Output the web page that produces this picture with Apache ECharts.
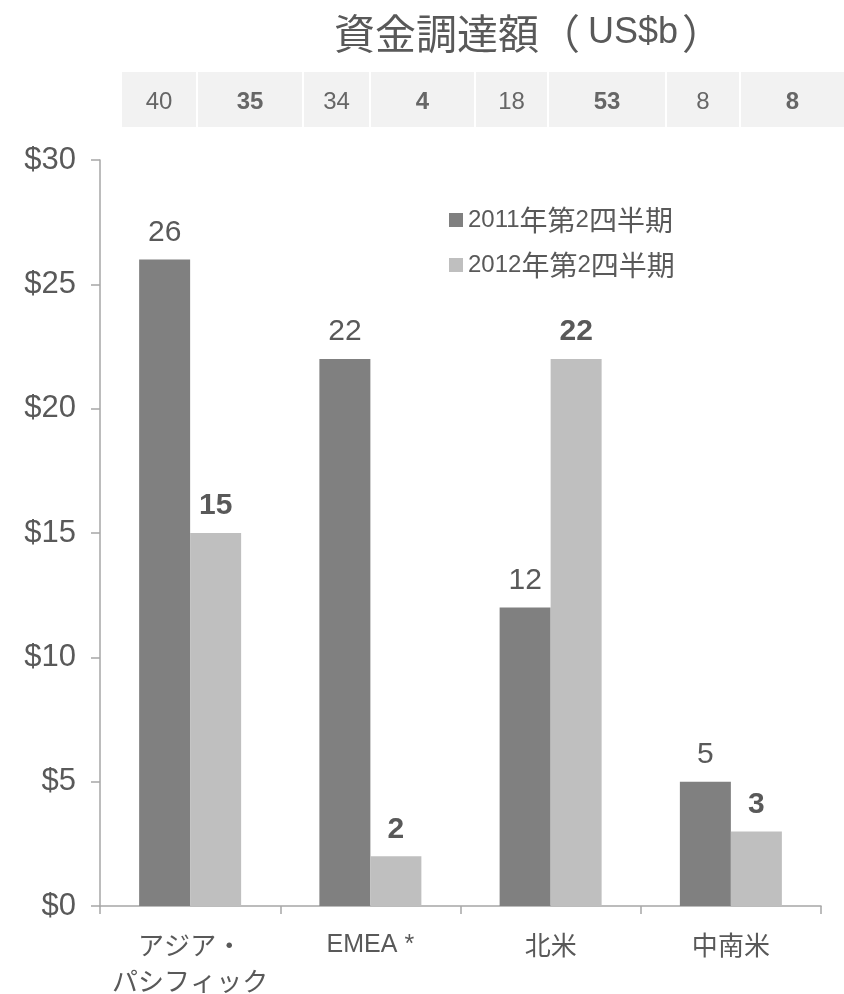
<!DOCTYPE html>
<html>
<head>
<meta charset="utf-8">
<script src="https://cdn.jsdelivr.net/npm/echarts@6/dist/echarts.min.js"></script>
<style>
html,body{margin:0;padding:0;background:#fff;}
#chart{width:844px;height:994px;}
</style>
</head>
<body>
<div id="chart"></div>
<script>
var categories = ['アジア・\nパシフィック', 'EMEA *', '北米', '中南米'];
var seriesNames = ['2011年第2四半期', '2012年第2四半期'];
var values2011 = [26, 22, 12, 5];
var values2012 = [15, 2, 22, 3];
var dealCounts = [40, 35, 34, 4, 18, 53, 8, 8];
var yTicks = [0, 5, 10, 15, 20, 25, 30];
var titleText = '資金調達額（US$b）';

var LATIN = '"Liberation Sans", Arial, sans-serif';
var CJK = '"Noto Sans CJK JP", sans-serif';
var TEXT = '#595959';

// wrap runs of Latin / CJK characters in rich-text tags
function mixRich(s) {
  var out = '', cur = '', curTag = null;
  for (var i = 0; i < s.length; i++) {
    var ch = s[i];
    if (ch === '\n') { if (cur) out += '{' + curTag + '|' + cur + '}'; out += '\n'; cur = ''; curTag = null; continue; }
    var tag = ch.charCodeAt(0) < 0x2000 ? 'l' : 'c';
    if (tag !== curTag && cur) { out += '{' + curTag + '|' + cur + '}'; cur = ''; }
    curTag = tag; cur += ch;
  }
  if (cur) out += '{' + curTag + '|' + cur + '}';
  return out;
}

var cellBounds = [[122,196],[198,302],[304,369],[371,474],[476,547],[549,665],[667,739],[741,844]];
var headerGraphics = [];
dealCounts.forEach(function (v, i) {
  var b = cellBounds[i];
  headerGraphics.push({
    type: 'rect', silent: true,
    shape: {x: b[0], y: 72, width: b[1] - b[0], height: 55},
    style: {fill: '#F2F2F2'}
  });
  headerGraphics.push({
    type: 'text', silent: true,
    x: (b[0] + b[1]) / 2, y: 102,
    style: {
      text: String(v), fill: '#666666',
      font: (i % 2 === 1 ? 'bold ' : '') + '24px ' + LATIN,
      align: 'center', verticalAlign: 'middle'
    }
  });
});

var titleParts = titleText.match(/^(.*)（(.*)）$/);

var chart = echarts.init(document.getElementById('chart'), null, {renderer: 'canvas'});
chart.setOption({
  animation: false,
  backgroundColor: '#ffffff',
  title: {
    text: '{c|' + titleParts[1] + '}{p|（}{l|' + titleParts[2] + '}{q|）}',
    left: 329, top: 8,
    textStyle: {
      color: TEXT, fontWeight: 'normal',
      rich: {
        c: {fontSize: 41, fontFamily: CJK, color: TEXT},
        p: {fontSize: 41, fontFamily: CJK, color: TEXT, padding: [0, 8, 0, 0]},
        q: {fontSize: 41, fontFamily: CJK, color: TEXT, padding: [0, 0, 0, 4]},
        l: {fontSize: 36, fontFamily: LATIN, color: TEXT}
      }
    }
  },
  legend: {
    orient: 'vertical',
    left: 444, top: 201,
    itemWidth: 14, itemHeight: 14, itemGap: 17,
    icon: 'rect',
    data: seriesNames,
    formatter: function (n) { return mixRich(n); },
    textStyle: {
      color: TEXT, padding: [0, 0, 0, 0],
      rich: {
        l: {fontSize: 24, fontFamily: LATIN, color: TEXT},
        c: {fontSize: 28, fontFamily: CJK, color: TEXT}
      }
    }
  },
  grid: {left: 100, right: 23, top: 160, bottom: 82, containLabel: false},
  xAxis: {
    type: 'category',
    data: categories,
    axisLine: {lineStyle: {color: '#A6A6A6', width: 1.5}},
    axisTick: {show: true, length: 8, alignWithLabel: false, lineStyle: {color: '#A6A6A6', width: 1.5}},
    axisLabel: {
      color: TEXT, margin: 21, interval: 0,
      formatter: function (v) { return mixRich(v); },
      rich: {
        l: {fontSize: 25, fontFamily: LATIN, color: TEXT, lineHeight: 36},
        c: {fontSize: 26, fontFamily: CJK, color: TEXT, lineHeight: 36}
      }
    }
  },
  yAxis: {
    type: 'value',
    min: yTicks[0], max: yTicks[yTicks.length - 1], interval: 5,
    axisLine: {show: true, lineStyle: {color: '#A6A6A6', width: 1.5}},
    axisTick: {show: true, length: 9, lineStyle: {color: '#A6A6A6', width: 1.5}},
    splitLine: {show: false},
    axisLabel: {color: TEXT, fontSize: 31, fontFamily: LATIN, margin: 24,
      formatter: function (v) { return '$' + v; }}
  },
  series: [
    {
      name: seriesNames[0], type: 'bar', data: values2011,
      barWidth: 51, barGap: '0%',
      itemStyle: {color: '#808080'},
      label: {show: true, position: 'top', distance: 12, color: TEXT, fontSize: 30, fontFamily: LATIN}
    },
    {
      name: seriesNames[1], type: 'bar', data: values2012,
      barWidth: 51, barGap: '0%',
      itemStyle: {color: '#BFBFBF'},
      label: {show: true, position: 'top', distance: 12, color: TEXT, fontSize: 30, fontWeight: 'bold', fontFamily: LATIN}
    }
  ],
  graphic: headerGraphics
});
</script>
</body>
</html>
